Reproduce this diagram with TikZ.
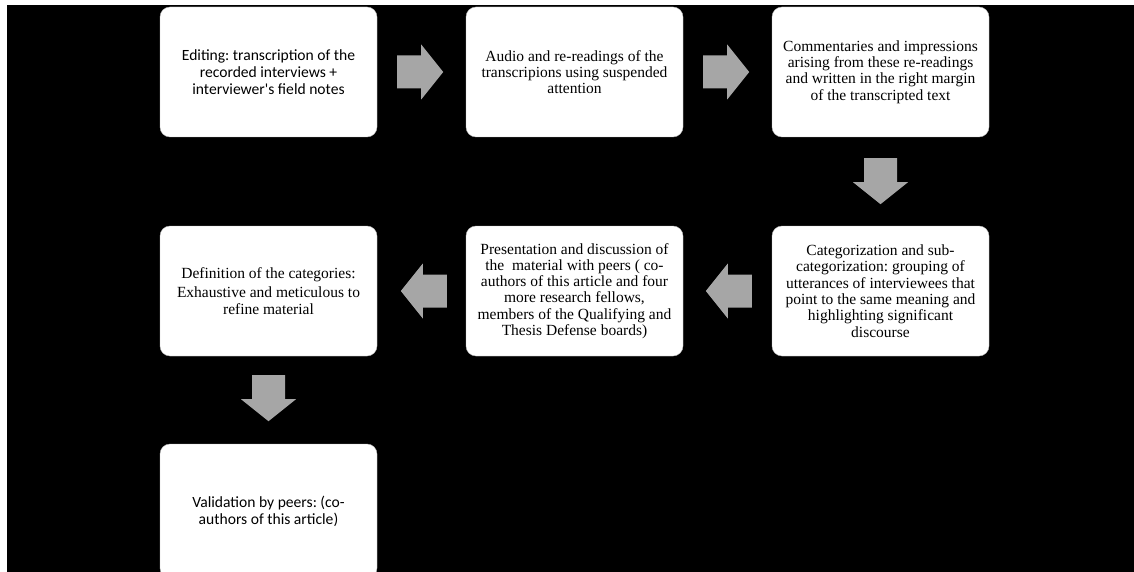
\documentclass[tikz,border=0pt]{standalone}
\usepackage{fontspec}
\setmainfont{Liberation Serif}
\newfontfamily\calib{Carlito}
\usetikzlibrary{calc}
\frenchspacing
\begin{document}
\begin{tikzpicture}[x=1pt,y=-1pt,
  stepbox/.style={draw=gray!50,line width=0.4pt,fill=white,rounded corners=10pt,
    minimum width=217pt,minimum height=130pt,align=center,inner sep=2pt,
    font=\frenchspacing\fontsize{15.5}{16.3}\selectfont},
  sansbox/.style={stepbox,font=\frenchspacing\calib\fontsize{15.6}{17}\selectfont},
  blockarrow/.pic={\fill[arrowgray] (0,-16.5)--(24,-16.5)--(24,-27.5)--(46,0)--(24,27.5)--(24,16.5)--(0,16.5)--cycle;}
]
\definecolor{arrowgray}{HTML}{A6A6A6}
\useasboundingbox (0,0) rectangle (1134,572);
\fill[white] (0,0) rectangle (1134,572);
\fill[black] (7,5) rectangle (1134,572);

\node[sansbox] (b1) at (268.5,72) {Editing: transcription of the\\recorded interviews +\\interviewer's field notes};
\node[stepbox] (b2) at (574.5,72) {Audio and re-readings of the\\transcripions using suspended\\attention};
\node[stepbox] (b3) at (880.5,72) {Commentaries and impressions\\arising from these re-readings\\and written in the right margin\\of the transcripted text};
\node[stepbox] (b4) at (268.5,291) {Definition of the categories:\\[3pt]Exhaustive and meticulous to\\refine material};
\node[stepbox] (b5) at (574.5,291) {Presentation and discussion of\\the\ \ material with peers ( co-\\authors of this article and four\\more research fellows,\\members of the Qualifying and\\Thesis Defense boards)};
\node[stepbox] (b6) at (880.5,291) {Categorization and sub-\\categorization: grouping of\\utterances of interviewees that\\point to the same meaning and\\highlighting significant\\discourse};
\node[sansbox,minimum height=134pt] (b7) at (268.5,511) {Validation by peers: (co-\\authors of this article)};

\pic at ($(b1.east)+(20,0)$) {blockarrow};
\pic at ($(b2.east)+(20,0)$) {blockarrow};
\pic[rotate=-90] at ($(b3.south)+(0,21)$) {blockarrow};
\pic[rotate=180] at ($(b6.west)+(-20,0)$) {blockarrow};
\pic[rotate=180] at ($(b5.west)+(-19,0)$) {blockarrow};
\pic[rotate=-90] at ($(b4.south)+(0,19)$) {blockarrow};
\end{tikzpicture}
\end{document}
